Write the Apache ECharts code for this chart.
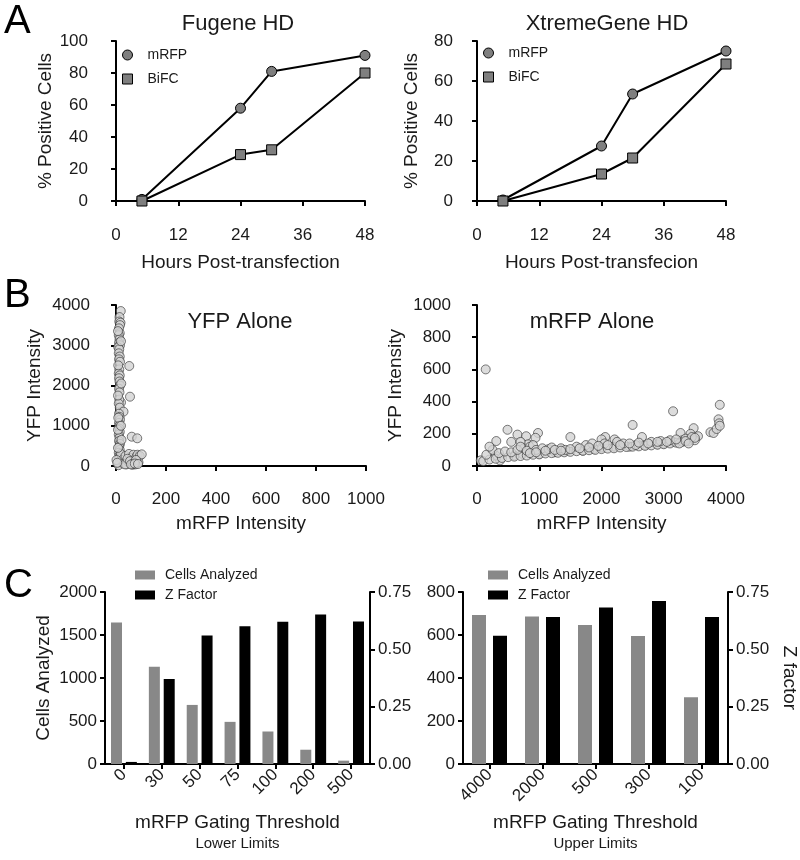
<!DOCTYPE html>
<html>
<head>
<meta charset="utf-8">
<script src="https://cdn.jsdelivr.net/npm/echarts@6/dist/echarts.min.js"></script>
<style>
html,body{margin:0;padding:0;background:#fff;}
#chart{width:800px;height:860px;}
</style>
</head>
<body>
<div id="chart"></div>
<script>
// ---------- Panel A data ----------
const hours = [5, 24, 30, 48];
const fugeneMRFP = [1, 58, 81, 91];
const fugeneBiFC = [0, 29, 32, 80];
const xtremeMRFP = [0.5, 27.5, 53.5, 75];
const xtremeBiFC = [0, 13.5, 21.5, 68.5];

// ---------- Panel B data ([mRFP, YFP]) ----------
const yfpAlonePoints = [[19,3850],[14,3700],[13,3590],[18,3560],[16,3500],[12,3420],[15,3300],[11,3250],[14,3150],[12,3060],[16,3000],[9,2950],[13,2900],[11,2800],[15,2720],[12,2650],[16,2590],[53,2485],[13,2400],[11,2300],[15,2250],[12,2180],[14,2100],[16,2000],[12,1920],[14,1830],[56,1722],[20,1580],[13,1650],[11,1550],[15,1450],[30,1350],[12,1300],[14,1220],[16,1150],[12,1070],[14,1000],[13,930],[15,850],[11,780],[63,728],[85,688],[14,700],[12,620],[16,550],[13,480],[15,400],[11,330],[14,260],[12,190],[16,120],[13,60],[10,20],[20,300],[25,150],[30,60],[38,250],[42,40],[48,110],[52,300],[58,60],[62,200],[66,30],[70,280],[74,120],[78,40],[82,230],[86,280],[90,90],[95,250],[103,290],[36,40],[46,180],[56,120],[68,60],[80,150],[2,150],[5,80],[8,3350],[9,2500],[8,1750],[9,1200],[8,900],[8,450],[20,3100],[21,2050],[20,1000],[22,650],[60,40],[75,60],[88,50]];
const mrfpAlonePoints = [[140,600],[490,225],[310,155],[650,195],[790,185],[980,205],[940,175],[1500,180],[2500,255],[3150,340],[3900,380],[3880,290],[3890,265],[3750,210],[3800,205],[3480,235],[3430,200],[3550,185],[3270,205],[2650,180],[2060,180],[2210,165],[2000,165],[60,35],[370,35],[300,65],[600,65],[730,75],[820,135],[1000,75],[1250,85],[1450,95],[1700,95],[1880,105],[2000,115],[2200,120],[2450,120],[2700,130],[2900,135],[3000,140],[3150,150],[3300,160],[3420,165],[100,30],[200,40],[300,45],[400,50],[500,55],[600,58],[700,62],[800,65],[900,70],[1000,72],[1100,78],[1200,80],[1300,82],[1400,85],[1500,88],[1600,92],[1700,95],[1800,98],[1900,100],[2000,105],[2100,108],[2200,110],[2300,115],[2400,118],[2500,120],[2600,122],[2700,125],[2800,128],[2900,132],[3000,135],[3100,140],[3200,145],[3300,150],[3400,155],[3500,160],[550,150],[700,150],[750,110],[850,120],[900,130],[950,100],[1050,110],[1150,105],[1200,115],[1350,110],[1420,100],[1600,120],[1750,130],[1850,140],[2050,140],[2250,150],[2350,140],[2550,130],[2800,150],[2950,155],[3100,160],[3250,140],[3350,170],[3450,180],[3850,230],[3900,250],[150,70],[250,100],[200,120],[350,80],[450,90],[550,85],[650,100],[700,120],[800,95],[850,80],[950,85],[1100,95],[1250,100],[1350,95],[1500,105],[1650,110],[1800,115],[1950,125],[2100,130],[2300,130],[2450,140],[2600,145],[2750,140],[2900,150],[3050,150],[3200,165],[3350,155],[3500,175],[3400,140]];

// ---------- Panel C data ----------
const lowerCats = ['0','30','50','75','100','200','500'];
const lowerCells = [1645, 1131, 687, 490, 378, 166, 39];
const lowerZ = [0.009, 0.371, 0.560, 0.601, 0.620, 0.652, 0.621];
const upperCats = ['4000','2000','500','300','100'];
const upperCells = [693, 686, 647, 595, 310];
const upperZ = [0.559, 0.641, 0.682, 0.711, 0.641];

const FONT = 'Liberation Sans';
const TXT = '#1a1a1a';
const pairs = (xs, ys) => xs.map((x, i) => [x, ys[i]]);

const axisLine = {show: true, lineStyle: {color: '#000', width: 2}};
const axisTick = {show: true, length: 5, lineStyle: {color: '#000', width: 2}};
const axisLabel = {color: TXT, fontSize: 17, fontFamily: FONT, formatter: v => String(v)};
const nameStyle = {color: TXT, fontSize: 19, fontFamily: FONT};

function valAxis(extra) {
  return Object.assign({
    type: 'value', splitLine: {show: false},
    axisLine: axisLine, axisTick: axisTick, axisLabel: axisLabel,
    nameLocation: 'middle', nameTextStyle: nameStyle
  }, extra);
}

const markerStyle = {color: '#7f7f7f', borderColor: '#000', borderWidth: 1};
const scatterStyle = {color: '#d3d3d3', borderColor: '#333', borderWidth: 0.8};
const titleStyle = {fontSize: 22, fontWeight: 'normal', color: TXT, fontFamily: FONT};

const chart = echarts.init(document.getElementById('chart'), null, {renderer: 'canvas'});

const option = {
  animation: false,
  backgroundColor: '#fff',
  textStyle: {fontFamily: FONT},
  title: [
    {text: 'Fugene HD', left: 233, top: 8, textAlign: 'center', textStyle: titleStyle},
    {text: 'XtremeGene HD', left: 602, top: 8, textAlign: 'center', textStyle: titleStyle},
    {text: 'YFP Alone', left: 235, top: 306, textAlign: 'center', textStyle: titleStyle},
    {text: 'mRFP Alone', left: 587, top: 306, textAlign: 'center', textStyle: titleStyle}
  ],
  graphic: [
    {type: 'text', left: 4, top: 2, style: {text: 'A', fontSize: 40, fill: '#000', fontFamily: FONT}},
    {type: 'text', left: 4, top: 276, style: {text: 'B', fontSize: 40, fill: '#000', fontFamily: FONT}},
    {type: 'text', left: 4, top: 566, style: {text: 'C', fontSize: 40, fill: '#000', fontFamily: FONT}}
  ],
  legend: [
    {left: 117, top: 43, orient: 'vertical', itemWidth: 10, itemHeight: 10, itemGap: 10,
     textStyle: {fontSize: 14, color: TXT, fontFamily: FONT, padding: [0, 0, 0, 10]},
     data: [{name: 'mRFP', icon: 'circle', itemStyle: markerStyle}, {name: 'BiFC', icon: 'rect', itemStyle: markerStyle}]},
    {left: 478, top: 41, orient: 'vertical', itemWidth: 10, itemHeight: 10, itemGap: 10,
     textStyle: {fontSize: 14, color: TXT, fontFamily: FONT, padding: [0, 0, 0, 10]},
     data: [{name: 'mRFP', icon: 'circle', itemStyle: markerStyle}, {name: 'BiFC', icon: 'rect', itemStyle: markerStyle}]},
    {left: 130, top: 563, orient: 'vertical', itemWidth: 20, itemHeight: 9, itemGap: 6,
     textStyle: {fontSize: 14, color: TXT, fontFamily: FONT, padding: [0, 0, 0, 5]},
     data: [{name: 'Cells Analyzed', icon: 'rect', itemStyle: {color: '#888888'}}, {name: 'Z Factor', icon: 'rect', itemStyle: {color: '#000'}}]},
    {left: 483, top: 563, orient: 'vertical', itemWidth: 20, itemHeight: 9, itemGap: 6,
     textStyle: {fontSize: 14, color: TXT, fontFamily: FONT, padding: [0, 0, 0, 5]},
     data: [{name: 'Cells Analyzed', icon: 'rect', itemStyle: {color: '#888888'}}, {name: 'Z Factor', icon: 'rect', itemStyle: {color: '#000'}}]}
  ],
  grid: [
    {left: 116, top: 41, width: 249, height: 160},
    {left: 477, top: 41, width: 249, height: 160},
    {left: 116, top: 305, width: 250, height: 161},
    {left: 477, top: 305, width: 249, height: 161},
    {left: 105, top: 592, width: 265, height: 172},
    {left: 463, top: 592, width: 265, height: 172}
  ],
  xAxis: [
    valAxis({gridIndex: 0, min: 0, max: 48, interval: 12, offset: 18, name: 'Hours Post-transfection', nameGap: 34}),
    valAxis({gridIndex: 1, min: 0, max: 48, interval: 12, offset: 18, name: 'Hours Post-transfecion', nameGap: 34}),
    valAxis({gridIndex: 2, min: 0, max: 1000, interval: 200, offset: 17, name: 'mRFP Intensity', nameGap: 31}),
    valAxis({gridIndex: 3, min: 0, max: 4000, interval: 1000, offset: 17, name: 'mRFP Intensity', nameGap: 31}),
    {gridIndex: 4, type: 'category', data: lowerCats, axisLine: axisLine,
     axisTick: {show: true, alignWithLabel: true, length: 5, lineStyle: {color: '#000', width: 2}},
     axisLabel: {color: TXT, fontSize: 17, fontFamily: FONT, rotate: 45, margin: 8},
     nameLocation: 'middle', nameGap: 48,
     name: '{a|mRFP Gating Threshold}\n{b|Lower Limits}',
     nameTextStyle: {rich: {a: {fontSize: 19, color: TXT, fontFamily: FONT, lineHeight: 22}, b: {fontSize: 15, color: TXT, fontFamily: FONT, lineHeight: 20}}}},
    {gridIndex: 5, type: 'category', data: upperCats, axisLine: axisLine,
     axisTick: {show: true, alignWithLabel: true, length: 5, lineStyle: {color: '#000', width: 2}},
     axisLabel: {color: TXT, fontSize: 17, fontFamily: FONT, rotate: 45, margin: 8},
     nameLocation: 'middle', nameGap: 48,
     name: '{a|mRFP Gating Threshold}\n{b|Upper Limits}',
     nameTextStyle: {rich: {a: {fontSize: 19, color: TXT, fontFamily: FONT, lineHeight: 22}, b: {fontSize: 15, color: TXT, fontFamily: FONT, lineHeight: 20}}}}
  ],
  yAxis: [
    valAxis({gridIndex: 0, min: 0, max: 100, interval: 20, offset: 20, name: '% Positive Cells', nameGap: 37}),
    valAxis({gridIndex: 1, min: 0, max: 80, interval: 20, offset: 16, name: '% Positive Cells', nameGap: 40}),
    valAxis({gridIndex: 2, min: 0, max: 4000, interval: 1000, offset: 18, name: 'YFP Intensity', nameGap: 54}),
    valAxis({gridIndex: 3, min: 0, max: 1000, interval: 200, offset: 18, name: 'YFP Intensity', nameGap: 54}),
    valAxis({gridIndex: 4, min: 0, max: 2000, interval: 500, name: 'Cells Analyzed', nameGap: 52}),
    valAxis({gridIndex: 4, position: 'right', min: 0, max: 0.75, interval: 0.25, axisLabel: Object.assign({}, axisLabel, {formatter: v => v.toFixed(2)})}),
    valAxis({gridIndex: 5, min: 0, max: 800, interval: 200}),
    valAxis({gridIndex: 5, position: 'right', min: 0, max: 0.75, interval: 0.25, name: 'Z factor', nameGap: 52, nameRotate: -90, axisLabel: Object.assign({}, axisLabel, {formatter: v => v.toFixed(2)})})
  ],
  series: [
    {name: 'mRFP', type: 'line', xAxisIndex: 0, yAxisIndex: 0, data: pairs(hours, fugeneMRFP), symbol: 'circle', symbolSize: 10, itemStyle: markerStyle, lineStyle: {color: '#000', width: 2}, z: 3},
    {name: 'BiFC', type: 'line', xAxisIndex: 0, yAxisIndex: 0, data: pairs(hours, fugeneBiFC), symbol: 'rect', symbolSize: 10, itemStyle: markerStyle, lineStyle: {color: '#000', width: 2}, z: 4},
    {name: 'mRFP', type: 'line', xAxisIndex: 1, yAxisIndex: 1, data: pairs(hours, xtremeMRFP), symbol: 'circle', symbolSize: 10, itemStyle: markerStyle, lineStyle: {color: '#000', width: 2}, z: 3},
    {name: 'BiFC', type: 'line', xAxisIndex: 1, yAxisIndex: 1, data: pairs(hours, xtremeBiFC), symbol: 'rect', symbolSize: 10, itemStyle: markerStyle, lineStyle: {color: '#000', width: 2}, z: 4},
    {name: 'YFP Alone', type: 'scatter', xAxisIndex: 2, yAxisIndex: 2, data: yfpAlonePoints, symbolSize: 9, itemStyle: scatterStyle},
    {name: 'mRFP Alone', type: 'scatter', xAxisIndex: 3, yAxisIndex: 3, data: mrfpAlonePoints, symbolSize: 9, itemStyle: scatterStyle},
    {name: 'Cells Analyzed', type: 'bar', xAxisIndex: 4, yAxisIndex: 4, data: lowerCells, barWidth: 11, barGap: '35%', itemStyle: {color: '#888888'}},
    {name: 'Z Factor', type: 'bar', xAxisIndex: 4, yAxisIndex: 5, data: lowerZ, barWidth: 11, barGap: '35%', itemStyle: {color: '#000'}},
    {name: 'Cells Analyzed', type: 'bar', xAxisIndex: 5, yAxisIndex: 6, data: upperCells, barWidth: 14, barGap: '50%', itemStyle: {color: '#888888'}},
    {name: 'Z Factor', type: 'bar', xAxisIndex: 5, yAxisIndex: 7, data: upperZ, barWidth: 14, barGap: '50%', itemStyle: {color: '#000'}}
  ]
};
chart.setOption(option);
</script>
</body>
</html>
